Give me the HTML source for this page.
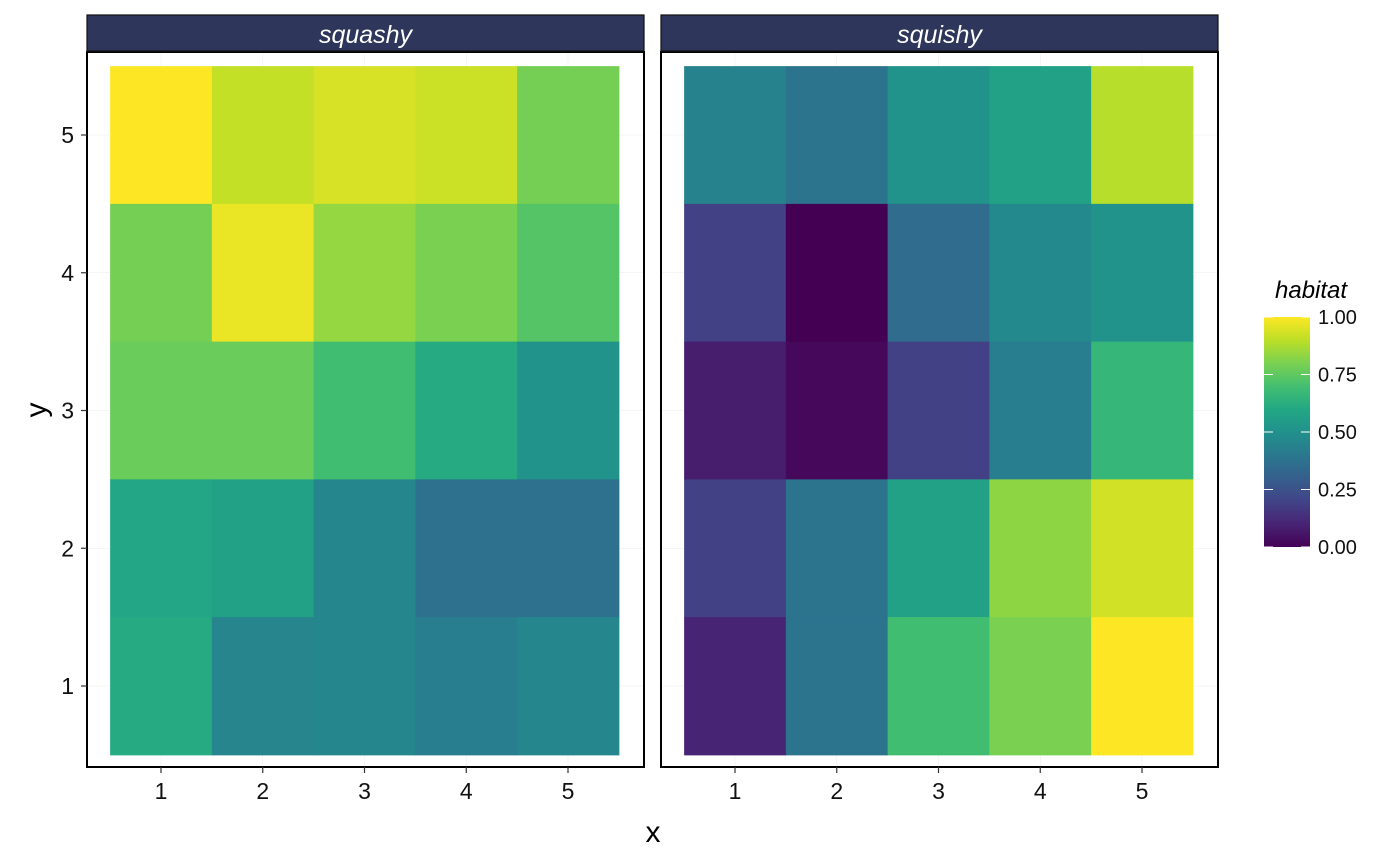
<!DOCTYPE html>
<html><head><meta charset="utf-8"><style>body{margin:0;background:#fff}svg{display:block;font-family:"Liberation Sans",sans-serif}</style></head>
<body>
<svg id="c" width="1400" height="865" xmlns="http://www.w3.org/2000/svg">
<defs><linearGradient id="vg" x1="0" y1="1" x2="0" y2="0">
<stop offset="0" stop-color="#440154"/><stop offset="0.1" stop-color="#482475"/><stop offset="0.2" stop-color="#414487"/><stop offset="0.3" stop-color="#355f8d"/><stop offset="0.4" stop-color="#2a788e"/><stop offset="0.5" stop-color="#21918c"/><stop offset="0.6" stop-color="#22a884"/><stop offset="0.7" stop-color="#44bf70"/><stop offset="0.8" stop-color="#7ad151"/><stop offset="0.9" stop-color="#bddf26"/><stop offset="1" stop-color="#fde725"/></linearGradient></defs>
</svg>
<script>
const panels = ['squashy','squishy'];
const xCats = [1,2,3,4,5];
const yCats = [1,2,3,4,5];
// rows from y=5 down to y=1
const squashy = [
 [1.00,0.91,0.94,0.92,0.79],
 [0.79,0.97,0.84,0.80,0.73],
 [0.77,0.77,0.69,0.61,0.51],
 [0.59,0.57,0.46,0.37,0.37],
 [0.61,0.45,0.46,0.42,0.46]];
const squishy = [
 [0.44,0.38,0.51,0.57,0.89],
 [0.19,0.00,0.35,0.47,0.51],
 [0.08,0.02,0.19,0.42,0.66],
 [0.19,0.38,0.57,0.83,0.93],
 [0.10,0.38,0.69,0.80,1.00]];
const legendTicks = ['0.00','0.25','0.50','0.75','1.00'];
const stops=['#440154','#482475','#414487','#355f8d','#2a788e','#21918c','#22a884','#44bf70','#7ad151','#bddf26','#fde725'];
function vir(v){v=Math.max(0,Math.min(1,v));const f=v*10,i=Math.min(9,Math.floor(f)),t=f-i;
 const a=stops[i],b=stops[i+1];const p=(h,k)=>parseInt(h.substr(1+2*k,2),16);
 return 'rgb('+[0,1,2].map(k=>Math.round(p(a,k)+(p(b,k)-p(a,k))*t)).join(',')+')';}
const svg=document.getElementById('c');const NS='http://www.w3.org/2000/svg';
function el(tag,at,par){const e=document.createElementNS(NS,tag);for(const k in at)e.setAttribute(k,at[k]);(par||svg).appendChild(e);return e;}
const panelX=[87,661], pW=557, pTop=52, pBot=767;
const ux=101.75, uy=137.75;
const yScale=v=>686-(v-1)*uy;
const data=[squashy,squishy];
panels.forEach((name,pi)=>{
 const x0=panelX[pi];
 const xScale=v=>x0+74+(v-1)*ux;
 const g=el('g',{});
 
 
 el('rect',{x:x0,y:pTop,width:pW,height:pBot-pTop,fill:'#fff'},g);
 xCats.forEach(c=>el('line',{x1:xScale(c),x2:xScale(c),y1:pTop,y2:pBot,stroke:'#ebebeb','stroke-width':0.5},g));
 yCats.forEach(c=>el('line',{x1:x0,x2:x0+pW,y1:yScale(c),y2:yScale(c),stroke:'#ebebeb','stroke-width':0.5},g));
 data[pi].forEach((row,ri)=>{const yv=5-ri;row.forEach((v,ci)=>{const xv=xCats[ci];
  const r=el('rect',{x:xScale(xv-0.5),y:yScale(yv+0.5),width:ux+0.5,height:uy+0.5,fill:vir(v)},g);
  
  });});
 el('rect',{x:x0,y:pTop,width:pW,height:pBot-pTop,fill:'none',stroke:'#000','stroke-width':2},g);
 const s=el('rect',{x:x0,y:15,width:pW,height:36,fill:'#2e375b',stroke:'#111','stroke-width':1.2});
 
 
 const st=el('text',{x:x0+pW/2,y:43,'text-anchor':'middle','font-size':25,'font-style':'italic',fill:'#fff'});st.textContent=name;
 
 
 xCats.forEach(c=>{el('line',{x1:xScale(c),x2:xScale(c),y1:pBot,y2:pBot+6,stroke:'#333','stroke-width':1.2});
  const t=el('text',{x:xScale(c),y:pBot+32,'text-anchor':'middle','font-size':23,fill:'#111'});t.textContent=c;
  
  });
});
yCats.forEach(c=>{el('line',{x1:81,x2:87,y1:yScale(c),y2:yScale(c),stroke:'#333','stroke-width':1.2});
 const t=el('text',{x:74,y:yScale(c)+8,'text-anchor':'end','font-size':23,fill:'#111'});t.textContent=c;
 
 });
let t=el('text',{x:653,y:842,'text-anchor':'middle','font-size':30});t.textContent='x';

t=el('text',{x:46,y:410,'text-anchor':'middle','font-size':30,transform:'rotate(-90 46 410)'});t.textContent='y';

// legend
const lb=el('g',{});
t=el('text',{x:1275,y:298,'font-size':24,'font-style':'italic'},lb);t.textContent='habitat';
el('rect',{x:1264,y:317,width:46,height:230,fill:'url(#vg)'},lb);
const ly=v=>547-v*230;
legendTicks.forEach(s=>{const v=parseFloat(s);
 el('line',{x1:1264,x2:1273,y1:ly(v),y2:ly(v),stroke:'#fff','stroke-width':1},lb);
 el('line',{x1:1301,x2:1310,y1:ly(v),y2:ly(v),stroke:'#fff','stroke-width':1},lb);
 const tt=el('text',{x:1318,y:ly(v)+7,'font-size':20,fill:'#111'},lb);tt.textContent=s;
 });
</script>
</body></html>
